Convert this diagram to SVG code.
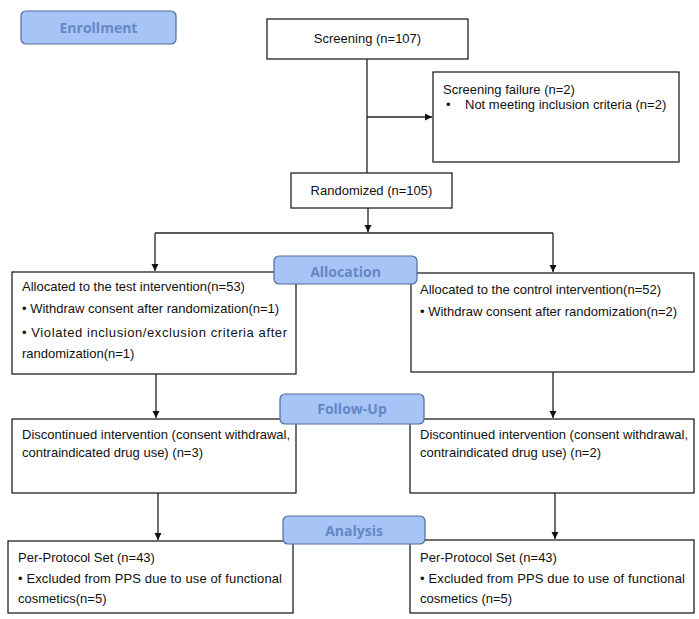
<svg xmlns="http://www.w3.org/2000/svg" width="699" height="619" viewBox="0 0 699 619">
<style>
.box{fill:#fff;stroke:#222;stroke-width:1.3}
.lab{fill:#a6c4f6;stroke:#4d6b9a;stroke-width:1.2}
.lt{font-family:"Open Sans","DejaVu Sans",sans-serif;font-weight:bold;font-size:14px;fill:#6587c4;text-anchor:middle}
.t{font-family:"Liberation Sans",Arial,sans-serif;font-size:13px;fill:#111}
.c{text-anchor:middle}
.ln{fill:none;stroke:#222;stroke-width:1.3}
</style>
<defs>
<marker id="ah" markerWidth="8" markerHeight="8" refX="7" refY="4" orient="auto" markerUnits="userSpaceOnUse">
<path d="M0,0.5 L7,4 L0,7.5 Z" fill="#111"/>
</marker>
</defs>
<g id="connectors">
<path class="ln" d="M367,59 V173"/>
<path class="ln" d="M367,117 H432" marker-end="url(#ah)"/>
<path class="ln" d="M368,208 V232" marker-end="url(#ah)"/>
<path class="ln" d="M155,233 H553"/>
<path class="ln" d="M155,233 V271" marker-end="url(#ah)"/>
<path class="ln" d="M553,233 V272" marker-end="url(#ah)"/>
<path class="ln" d="M156,374 V418" marker-end="url(#ah)"/>
<path class="ln" d="M553,372 V418" marker-end="url(#ah)"/>
<path class="ln" d="M158,493 V540" marker-end="url(#ah)"/>
<path class="ln" d="M555,493 V539" marker-end="url(#ah)"/>
</g>
<g id="enrollment">
<rect class="lab" x="21" y="11" width="155" height="33" rx="5"/>
<text class="lt" x="98.5" y="33">Enrollment</text>
</g>
<g id="screening">
<rect class="box" x="267" y="19" width="201" height="40"/>
<text class="t c" x="367.5" y="43">Screening (n=107)</text>
</g>
<g id="screening-failure">
<rect class="box" x="433" y="72" width="246" height="90"/>
<text class="t" x="443" y="94">Screening failure (n=2)</text>
<text class="t" x="446" y="109">•</text>
<text class="t" x="465" y="109">Not meeting inclusion criteria (n=2)</text>
</g>
<g id="randomized">
<rect class="box" x="291" y="173" width="161" height="35"/>
<text class="t c" x="371.5" y="195">Randomized (n=105)</text>
</g>
<g id="alloc-test">
<rect class="box" x="12" y="272" width="284" height="102"/>
<text class="t" x="22" y="291">Allocated to the test intervention(n=53)</text>
<text class="t" x="22" y="313">• Withdraw consent after randomization(n=1)</text>
<text class="t" x="22" y="337" textLength="265" lengthAdjust="spacing">• Violated inclusion/exclusion criteria after</text>
<text class="t" x="22" y="358">randomization(n=1)</text>
</g>
<g id="alloc-control">
<rect class="box" x="411" y="273" width="283" height="99"/>
<text class="t" x="420" y="294">Allocated to the control intervention(n=52)</text>
<text class="t" x="420" y="316">• Withdraw consent after randomization(n=2)</text>
</g>
<g id="allocation">
<rect class="lab" x="274" y="256" width="143" height="28" rx="5"/>
<text class="lt" x="345.5" y="277">Allocation</text>
</g>
<g id="follow-test">
<rect class="box" x="12" y="419" width="284" height="74"/>
<text class="t" x="22" y="439">Discontinued intervention (consent withdrawal,</text>
<text class="t" x="22" y="457">contraindicated drug use) (n=3)</text>
</g>
<g id="follow-control">
<rect class="box" x="410" y="419" width="284" height="74"/>
<text class="t" x="420" y="439">Discontinued intervention (consent withdrawal,</text>
<text class="t" x="420" y="457">contraindicated drug use) (n=2)</text>
</g>
<g id="followup">
<rect class="lab" x="280" y="394" width="144" height="30" rx="5"/>
<text class="lt" x="352" y="414">Follow-Up</text>
</g>
<g id="pps-test">
<rect class="box" x="8" y="541" width="285" height="72"/>
<text class="t" x="18" y="562">Per-Protocol Set (n=43)</text>
<text class="t" x="18" y="583" textLength="264" lengthAdjust="spacing">• Excluded from PPS due to use of functional</text>
<text class="t" x="18" y="603">cosmetics(n=5)</text>
</g>
<g id="pps-control">
<rect class="box" x="410" y="540" width="284" height="73"/>
<text class="t" x="420" y="562">Per-Protocol Set (n=43)</text>
<text class="t" x="420" y="583" textLength="265" lengthAdjust="spacing">• Excluded from PPS due to use of functional</text>
<text class="t" x="420" y="603">cosmetics (n=5)</text>
</g>
<g id="analysis">
<rect class="lab" x="283" y="516" width="142" height="28" rx="5"/>
<text class="lt" x="354" y="536">Analysis</text>
</g>
</svg>
